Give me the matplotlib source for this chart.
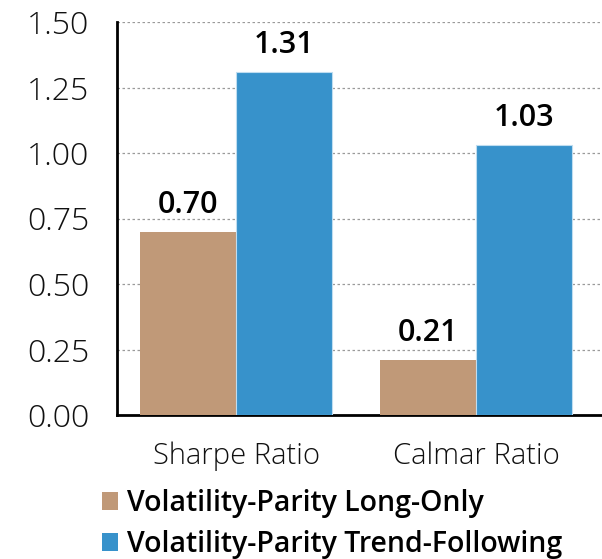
import matplotlib
matplotlib.use("Agg")
import matplotlib.pyplot as plt
import numpy as np
from matplotlib.patches import Patch

plt.rcParams['font.family'] = ['Open Sans', 'DejaVu Sans']

categories = ["Sharpe Ratio", "Calmar Ratio"]
series_names = ["Volatility-Parity Long-Only", "Volatility-Parity Trend-Following"]
long_only = [0.70, 0.21]
trend_following = [1.31, 1.03]
y_ticks = [0.00, 0.25, 0.50, 0.75, 1.00, 1.25, 1.50]

colors = ["#C09978", "#3792CB"]

fig = plt.figure(figsize=(6.02, 5.59), dpi=100)
ax = fig.add_axes([117 / 602, 1 - 415 / 559, 1 - 117 / 602, (415 - 22) / 559])

x = np.arange(len(categories))
width = 0.4
b1 = ax.bar(x - width / 2, long_only, width, color=colors[0], zorder=3)
b2 = ax.bar(x + width / 2, trend_following, width, color=colors[1],
            edgecolor="#BFDDF0", linewidth=0.8, zorder=3)

for bars, vals in ((b1, long_only), (b2, trend_following)):
    for rect, v in zip(bars, vals):
        ax.text(rect.get_x() + rect.get_width() / 2, v + 0.045, f"{v:.2f}",
                ha="center", va="bottom", fontsize=22, fontweight=600,
                color="black")

ax.set_ylim(0, 1.5)
ax.set_xlim(-0.496, 1.525)
ax.set_yticks(y_ticks)
ax.set_yticklabels([f"{t:.2f}" for t in y_ticks], fontweight=300)
ax.set_xticks(x)
ax.set_xticklabels(categories, fontweight=300)
ax.tick_params(axis="y", length=0, pad=20, labelsize=23, labelcolor="#111111")
ax.tick_params(axis="x", length=0, pad=19, labelsize=21, labelcolor="#111111")

ax.yaxis.grid(True, linestyle=(0, (2, 2)), color="#9a9a9a", linewidth=0.9, zorder=0)
ax.set_axisbelow(True)
for side in ("top", "right"):
    ax.spines[side].set_visible(False)
for side in ("left", "bottom"):
    ax.spines[side].set_linewidth(2)
    ax.spines[side].set_color("black")

handles = [Patch(facecolor=c, edgecolor="none") for c in colors]
fig.legend(handles, series_names, loc="upper left",
           bbox_to_anchor=(91 / 602, 1 - 478 / 559), frameon=False,
           handlelength=0.55, handleheight=0.6,
           handletextpad=0.3, labelspacing=0.4, borderaxespad=0,
           prop={"size": 20.5, "weight": 600})

fig.savefig("out.png", dpi=100)
